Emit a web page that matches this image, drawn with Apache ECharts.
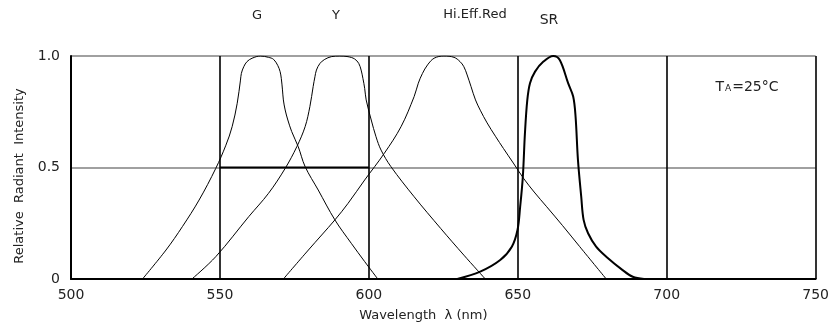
<!DOCTYPE html>
<html>
<head>
<meta charset="utf-8">
<script src="https://cdn.jsdelivr.net/npm/echarts@6/dist/echarts.min.js"></script>
<style>
  html, body { margin: 0; padding: 0; background: #fff; }
  #chart { width: 832px; height: 334px; }
</style>
</head>
<body>
<div id="chart"></div>
<script>
// wavelength (nm) / relative intensity
var gWl  = [524, 531.9, 537.4, 543, 548.6, 552, 554.1, 555.8, 556.9, 557.2, 558, 559.1, 560.8, 563.6, 566.3, 568, 569.4, 570.2, 570.6, 571, 571.3, 571.9, 572.8, 574.1, 576.3, 578.6, 583, 588.6, 594.1, 598.6, 603];
var gVal = [0, 0.13, 0.235, 0.354, 0.496, 0.6, 0.683, 0.788, 0.892, 0.922, 0.952, 0.975, 0.99, 1.0, 0.994, 0.985, 0.958, 0.93, 0.9, 0.848, 0.803, 0.758, 0.713, 0.661, 0.593, 0.504, 0.399, 0.265, 0.16, 0.078, 0];

var yWl  = [540.6, 548.6, 559.7, 566.3, 571.9, 575.8, 578.6, 580.2, 581.3, 581.9, 582.4, 583.6, 585.2, 587.4, 590.2, 593, 595.2, 596.6, 597.4, 598, 598.6, 599.1, 600.8, 602.4, 604.1, 607.4, 615.2, 624.1, 631.9, 639.1];
var yVal = [0, 0.1, 0.28, 0.384, 0.496, 0.593, 0.683, 0.773, 0.863, 0.907, 0.937, 0.967, 0.985, 0.997, 1.0, 0.997, 0.987, 0.967, 0.937, 0.9, 0.855, 0.803, 0.713, 0.638, 0.578, 0.504, 0.369, 0.227, 0.107, 0];

var redWl  = [571.3, 579.7, 588.6, 593, 598.6, 605.2, 610.8, 615.2, 616.6, 618, 619.7, 621.9, 625.2, 628.6, 630.6, 631.9, 633, 634.3, 635.8, 637.4, 639.7, 642.5, 645.2, 648.5, 651.9, 655.5, 659.7, 665, 670.8, 679.7];
var redVal = [0, 0.13, 0.265, 0.339, 0.444, 0.564, 0.683, 0.818, 0.878, 0.922, 0.96, 0.99, 1.0, 0.994, 0.975, 0.952, 0.915, 0.863, 0.803, 0.757, 0.7, 0.64, 0.585, 0.52, 0.452, 0.39, 0.324, 0.24, 0.145, 0];

var srWl  = [629.7, 637.4, 644.1, 648, 649.9, 650.8, 651.7, 652.4, 653.2, 654.1, 655.8, 658.6, 661.9, 664.1, 666.9, 668.6, 669.4, 670.2, 671.3, 672.1, 673.6, 676.3, 679.7, 685.2, 688.6, 692.4];
var srVal = [0, 0.033, 0.085, 0.145, 0.22, 0.324, 0.459, 0.653, 0.803, 0.878, 0.93, 0.975, 1.0, 0.982, 0.878, 0.818, 0.728, 0.534, 0.369, 0.265, 0.205, 0.145, 0.1, 0.04, 0.01, 0];

// bold half-intensity segment between the 550 and 600 lines
var halfWl  = [550, 600];
var halfVal = [0.5, 0.5];

var xTicks = [500, 550, 600, 650, 700, 750];
var yTicks = [0, 0.5, 1.0];

function pairs(xs, ys) {
    return xs.map(function (x, i) { return [x, ys[i]]; });
}

var font = "'DejaVu Sans', sans-serif";

var myChart = echarts.init(document.getElementById('chart'));

function curve(name, xs, ys, width) {
    return {
        name: name,
        type: 'line',
        data: pairs(xs, ys),
        showSymbol: false,
        smooth: 0.35,
        lineStyle: { color: '#000', width: width },
        z: 3
    };
}

function label(text, x, y, size) {
    return {
        type: 'text', x: x, y: y,
        style: { text: text, font: size + 'px ' + font, fill: '#222', align: 'center', verticalAlign: 'middle' }
    };
}

option = {
    animation: false,
    backgroundColor: '#fff',
    grid: { left: 71, right: 12, top: 56, bottom: 55 },
    xAxis: {
        type: 'value',
        min: xTicks[0],
        max: xTicks[xTicks.length - 1],
        interval: 50,
        name: 'Wavelength  λ (nm)',
        nameLocation: 'middle',
        nameGap: 30,
        nameTextStyle: { fontFamily: font, fontSize: 13, color: '#222', padding: [0, 40, 0, 0] },
        axisLine: { lineStyle: { color: '#000', width: 2 } },
        axisTick: { show: false },
        axisLabel: { fontFamily: font, fontSize: 14, color: '#222', margin: 9 },
        splitLine: { show: true, lineStyle: { color: '#000', width: 1.6 } }
    },
    yAxis: {
        type: 'value',
        min: yTicks[0],
        max: yTicks[yTicks.length - 1],
        interval: 0.5,
        axisLine: { show: true, lineStyle: { color: '#000', width: 2 } },
        axisTick: { show: false },
        axisLabel: {
            fontFamily: font, fontSize: 14, color: '#222', margin: 11,
            formatter: function (v) { return v === 0 ? '0' : v.toFixed(1); }
        },
        splitLine: { show: true, lineStyle: { color: '#808080', width: 1.5 } }
    },
    graphic: [
        {
            type: 'text', x: 20, y: 176, rotation: Math.PI / 2,
            style: { text: 'Relative  Radiant  Intensity', font: '13px ' + font, fill: '#222', align: 'center', verticalAlign: 'middle' }
        },
        label('G', 257, 16, 13),
        label('Y', 336, 16, 13),
        label('Hi.Eff.Red', 475, 15, 13),
        label('SR', 549, 20, 14),
        {
            type: 'text', x: 747, y: 87,
            style: {
                text: 'T{sub|A}=25°C',
                font: '14px ' + font, fill: '#222', align: 'center', verticalAlign: 'middle',
                rich: { sub: { fontSize: 9, fontFamily: font, fill: '#222', padding: [4, 1, 0, 1] } }
            }
        }
    ],
    series: [
        curve('G', gWl, gVal, 1),
        curve('Y', yWl, yVal, 1),
        curve('Hi.Eff.Red', redWl, redVal, 1),
        curve('SR', srWl, srVal, 2),
        {
            name: 'half',
            type: 'line',
            data: pairs(halfWl, halfVal),
            showSymbol: false,
            lineStyle: { color: '#000', width: 2 },
            z: 2
        }
    ]
};

myChart.setOption(option);
</script>
</body>
</html>
